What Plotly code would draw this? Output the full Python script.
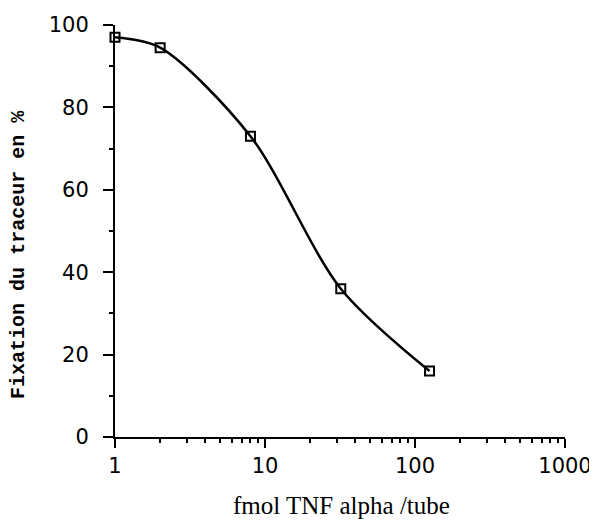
import plotly.graph_objects as go

# Data
dose_fmol = [1, 2, 8, 32, 125]
fixation_pct = [97, 94.5, 73, 36, 16]

x_tick_vals = [1, 10, 100, 1000]
x_tick_text = ["1", "10", "100", "1000"]
y_tick_vals = [0, 20, 40, 60, 80, 100]
x_minor_vals = [m * d for d in (1, 10, 100) for m in range(2, 10)]

x_title = "fmol TNF alpha /tube"
y_title = "Fixation du traceur en %"

fig = go.Figure()
fig.add_trace(go.Scatter(
    x=dose_fmol, y=fixation_pct,
    mode="lines+markers",
    line=dict(color="black", width=2.5, shape="spline", smoothing=0.85),
    marker=dict(symbol="square-open", size=9, color="black", line=dict(width=2)),
    showlegend=False, cliponaxis=False,
))

axis_font = dict(family="DejaVu Sans", size=21, color="black")

# page body has an 8px margin, so the figure is offset by 8px
fig.update_layout(
    width=589, height=513,
    margin=dict(l=107, r=32, t=17, b=84, autoexpand=False),
    paper_bgcolor="white", plot_bgcolor="white",
    xaxis=dict(
        type="log", range=[0, 3], automargin=False,
        tickvals=x_tick_vals, ticktext=x_tick_text,
        ticks="outside", ticklen=9, tickwidth=2, tickcolor="black",
        showline=True, linecolor="black", linewidth=2,
        showgrid=False, zeroline=False,
        tickfont=axis_font,
        minor=dict(tickvals=x_minor_vals, ticks="outside", ticklen=4,
                   tickwidth=2, tickcolor="black", showgrid=False),
    ),
    yaxis=dict(
        range=[0, 100], automargin=False,
        tickvals=y_tick_vals,
        ticks="outside", ticklen=10, tickwidth=2, tickcolor="black",
        ticklabelstandoff=10,
        showline=True, linecolor="black", linewidth=2,
        showgrid=False, zeroline=False,
        tickfont=axis_font,
        minor=dict(dtick=10, ticks="outside", ticklen=4, tickwidth=2,
                   tickcolor="black", showgrid=False),
    ),
    annotations=[
        dict(text=x_title, xref="paper", yref="paper", x=0.504, y=0,
             xanchor="center", yanchor="middle", yshift=-68, showarrow=False,
             font=dict(family="Liberation Serif", size=25, color="black")),
        dict(text=y_title, xref="paper", yref="paper", x=0, y=0.442,
             xanchor="center", yanchor="middle", xshift=-96, textangle=-90,
             showarrow=False,
             font=dict(family="Liberation Mono", size=20, color="black",
                       weight="bold")),
    ],
)

fig.write_html("out.html")
